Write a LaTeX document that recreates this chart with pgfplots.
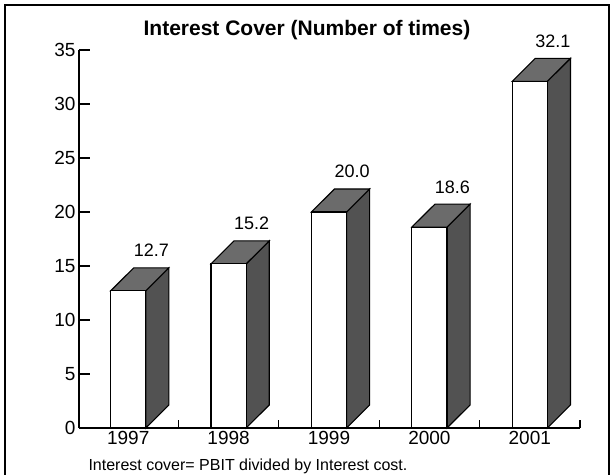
\documentclass[border=0pt]{standalone}
\usepackage{pgfplots}
\usepackage{pgfplotstable}
\pgfplotsset{compat=1.18}
\usepackage{fontspec}
\setmainfont{Liberation Sans}

\pgfplotstableread{
x v lab
0 12.7 12.7
1 15.2 15.2
2 20.0 20.0
3 18.6 18.6
4 32.1 32.1
}\data

\begin{document}
\begin{tikzpicture}
\useasboundingbox (0,0) rectangle (613bp,475bp);
\draw[line width=1.2bp] (5bp,0) -- (5bp,470bp) -- (609bp,470bp) -- (609bp,0);
\node[font=\bfseries\fontsize{21bp}{24bp}\selectfont, anchor=base] at (307bp,439bp) {Interest Cover (Number of times)};
\begin{axis}[
  at={(79bp,47bp)}, anchor=south west, scale only axis,
  width=501bp, height=378bp,
  xmin=-0.49, xmax=4.5, ymin=0, ymax=35,
  axis x line=bottom, axis y line=left,
  axis line style={-, line width=1.1bp},
  xtick={0,1,2,3,4},
  xticklabels={1997,1998,1999,2000,2001},
  major x tick style={draw=none},
  minor xtick={0.5,1.5,2.5,3.5,4.5},
  minor tick length=8bp,
  ytick={0,5,...,35},
  major tick length=11bp,
  tick align=inside,
  tick style={black, line width=1.1bp},
  ticklabel style={font=\fontsize{19bp}{21bp}\selectfont},
  /pgf/number format/assume math mode=true,
  clip=false,
]
\pgfplotsinvokeforeach{0,...,4}{
  \pgfplotstablegetelem{#1}{v}\of\data
  \let\v\pgfplotsretval
  \pgfmathsetmacro\xa{#1+0.175}
  \pgfmathsetmacro\xb{#1+0.405}
  \pgfmathsetmacro\xc{#1-0.175}
  \pgfmathsetmacro\xd{#1+0.055}
  \pgfmathsetmacro\vt{\v+2.13}
  \addplot[fill=black!68, draw=black, line width=1.1bp] coordinates {(\xa,0) (\xb,2.13) (\xb,\vt) (\xa,\v)} -- cycle;
  \addplot[fill=black!58, draw=black, line width=1.1bp] coordinates {(\xc,\v) (\xa,\v) (\xb,\vt) (\xd,\vt)} -- cycle;
}
\addplot[ybar, bar width=0.35, fill=white, draw=black, line width=1.1bp] table[x=x, y=v] {\data};
\addplot[draw=none, mark=none, nodes near coords, point meta=explicit symbolic,
  every node near coord/.append style={anchor=base, yshift=11bp, font=\fontsize{18bp}{20bp}\selectfont}]
  table[x expr=\thisrow{x}+0.23, y expr=\thisrow{v}+2.13, meta=lab] {\data};
\end{axis}
\node[anchor=base west, font=\fontsize{16bp}{18bp}\selectfont] at (85bp,5bp) {Interest cover= PBIT divided by Interest cost.};
\end{tikzpicture}
\end{document}
